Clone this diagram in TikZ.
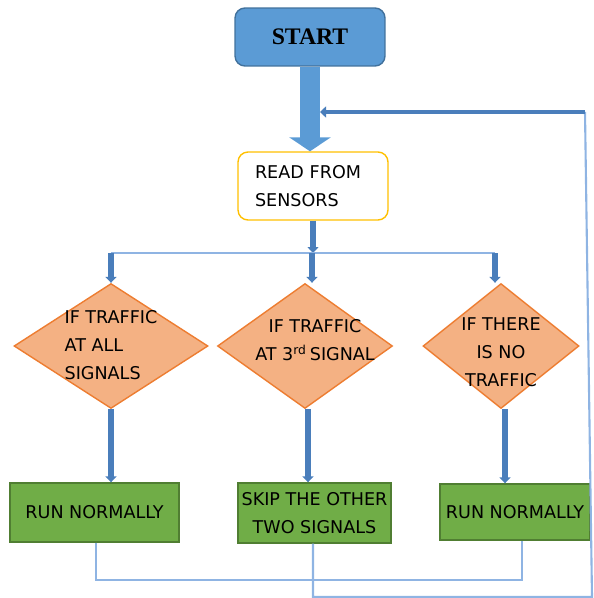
\documentclass[tikz,border=0pt]{standalone}
\usepackage{fontspec}
\setmainfont{DejaVu Sans}
\newfontfamily\startfont{Liberation Serif}
\usetikzlibrary{arrows.meta,positioning,calc,shapes.geometric}

\definecolor{startfill}{HTML}{5B9BD5}
\definecolor{startline}{HTML}{41719C}
\definecolor{readline}{HTML}{FFC000}
\definecolor{diafill}{HTML}{F4B183}
\definecolor{dialine}{HTML}{ED7D31}
\definecolor{boxfill}{HTML}{70AD47}
\definecolor{boxline}{HTML}{507E32}
\definecolor{connblue}{HTML}{4A7EBB}
\definecolor{thinblue}{HTML}{8FB4E3}

\begin{document}
\begin{tikzpicture}[
        x=0.02cm, y=-0.02cm,
        every node/.style={text=black, font=\fontsize{10}{16}\selectfont},
        startbox/.style={rectangle, rounded corners=0.2cm, fill=startfill,
            draw=startline, thick, minimum width=3cm, minimum height=1.16cm},
        readbox/.style={rectangle, rounded corners=0.2cm, fill=white,
            draw=readline, thick, minimum height=1.36cm, text width=2.32cm,
            inner xsep=0.34cm, align=left},
        dia/.style={diamond, fill=diafill, draw=dialine, thick, inner sep=0pt,
            minimum height=2.5cm},
        dtext/.style={inner sep=0pt},
        runbox/.style={rectangle, fill=boxfill, draw=boxline, thick,
            inner sep=1pt, align=center},
        block/.style={startfill, line width=0.4cm,
            -{Triangle[width=0.82cm,length=0.28cm]}},
        conn/.style={connblue, line width=3pt,
            -{Triangle[width=0.22cm,length=0.12cm]}},
        thinline/.style={thinblue, line width=1.2pt},
    ]
    \useasboundingbox (0,0) rectangle (594,598);
    % nodes
    \node[startbox, font=\startfont\bfseries\fontsize{13.5}{15}\selectfont] (start) at (310,37) {START};
    \node[readbox] (read) at (313,186) {READ FROM\\SENSORS};
    \node[dia, minimum width=3.88cm] (d1) at (111,346) {};
    \node[dia, minimum width=3.5cm] (d2) at (305,346) {};
    \node[dia, minimum width=3.12cm] (d3) at (501,346) {};
    \node[dtext, align=left] (d1t) at (111,345) {IF TRAFFIC\\AT ALL\\SIGNALS};
    \node[dtext, align=center] (d2t) at (315,340) {IF TRAFFIC\\AT 3\textsuperscript{rd}\,SIGNAL};
    \node[dtext, align=center] (d3t) at (501,352) {IF THERE\\IS NO\\TRAFFIC};
    \node[runbox, minimum width=3.38cm, minimum height=1.18cm] (b1) at (94.5,512.5) {RUN NORMALLY};
    \node[runbox, minimum width=3.06cm, minimum height=1.2cm] (b2) at (314.5,513) {SKIP THE OTHER\\TWO SIGNALS};
    \node[runbox, minimum width=3cm, minimum height=1.12cm] (b3) at (515,512) {RUN NORMALLY};
    % split and loop points
    \coordinate (split) at (315,253);
    \coordinate (splitl) at (d1.north |- split);
    \coordinate (splitr) at (495,253);
    \coordinate (joinl) at (96,580);
    \coordinate (joinr) at (522,580);
    \coordinate (loopbot) at (313,597);
    \coordinate (loopcorner) at (592,597);
    \coordinate (looptop) at (585,112);
    \coordinate (loopin) at (320,112);
    % connectors
    \draw[block] (start.south) -- (start.south |- read.north);
    \draw[conn] (read.south) -- (read.south |- split);
    \draw[thinline] (splitl) -- (splitr);
    \draw[conn] (splitl) -- (d1.north);
    \draw[conn] (312,253) -- (d2.north -| 312,0);
    \draw[conn] (splitr) -- (d3.north -| splitr);
    \draw[conn] (d1.south) -- (d1.south |- b1.north);
    \draw[conn] (d2.south -| 308,0) -- (b2.north -| 308,0);
    \draw[conn] (d3.south -| 505,0) -- (b3.north -| 505,0);
    % back to the sensors
    \draw[thinline] (b1.south -| joinl) -- (joinl) -- (joinr) -- (b3.south -| joinr);
    \draw[thinline] (b2.south -| loopbot) -- (loopbot) -- (loopcorner) -- (looptop);
    \draw[conn, line width=2.5pt] (looptop) -- (loopin);
\end{tikzpicture}
\end{document}
